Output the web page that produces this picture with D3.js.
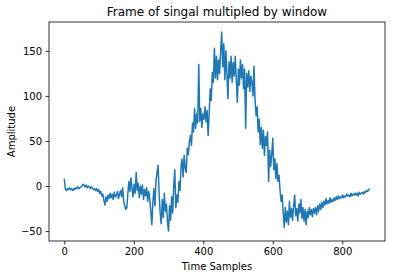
<!DOCTYPE html>
<html>
<head>
<meta charset="utf-8">
<script src="https://cdn.jsdelivr.net/npm/d3@7"></script>
<style>
  body { margin: 0; background: #fff; }
  svg text { font-family: "DejaVu Sans", sans-serif; fill: #000; }
</style>
</head>
<body>
<svg id="svg" width="394" height="278"></svg>
<script>
const step = 3;
const amplitude = [
  8, -3, -5, -3, -4, -2, -4, -3, -5, -3,
  -4, -2, -3, -1, -3, -2, -1, 0, 2, 1,
  -1, 1, -2, 0, -1, -3, -1, -2, -4, -3,
  -5, -3, -6, -4, -8, -6, -11, -9, -16, -21,
  -12, -17, -10, -14, -8, -13, -9, -15, -7, -12,
  -10, -6, -14, -9, -5, -12, -2, -17, -22, -26,
  -24, -8, 5, -6, 9, -3, -12, 2, -8, 15,
  -5, 3, -13, 0, -9, 1, -15, -4, -11, -2,
  -17, -6, -14, -28, -43, -18, -3, -22, 6, 15,
  23, -10, -30, -42, -15, -35, -8, -28, -20, -40,
  -50, -22, -38, -12, -30, 0, 18, -24, -10, -18,
  5, -5, 22, 30, 10, 34, 20, 15, 42, 35,
  49, 56, 45, 70, 60, 86, 64, 80, 70, 135,
  72, 86, 65, 80, 74, 88, 71, 84, 56, 80,
  108, 95, 126, 115, 153, 120, 144, 118, 140, 125,
  150, 171, 132, 158, 118, 150, 125, 97, 138, 120,
  144, 115, 137, 122, 144, 118, 93, 130, 112, 140,
  120, 135, 108, 130, 64, 125, 110, 128, 105, 122,
  115, 100, 133, 95, 78, 88, 60, 74, 46, 65,
  42, 62, 34, 55, 45, 60, 5, 40, 22, 35,
  53, 18, 30, 8, 25, 5, 12, -5, -17, -10,
  -30, -46, -24, -40, -28, -43, -17, -35, -25, -38,
  -22, -10, -33, -25, -39, -20, -30, -15, -36, -24,
  -39, -26, -43, -28, -35, -24, -32, -26, -34, -25,
  -30, -24, -32, -22, -28, -20, -26, -18, -24, -17,
  -21, -14, -20, -16, -19, -13, -18, -15, -17, -13,
  -16, -12, -15, -11, -14, -12, -13, -10, -13, -11,
  -12, -9, -11, -10, -12, -8, -11, -9, -10, -8,
  -10, -8, -11, -7, -9, -8, -7, -9, -6, -7,
  -5, -6, -4, -3
];
const xTicks = [0, 200, 400, 600, 800];
const yTicks = [-50, 0, 50, 100, 150];

const svg = d3.select('#svg');
const pl = 49, pr = 385, pt = 22, pb = 241;

const pts = amplitude.map((v, i) => [i * step, v]);
const xMax = (amplitude.length - 1) * step;
const xPad = xMax * 0.05;
const [yMin, yMax] = d3.extent(amplitude);
const yPad = (yMax - yMin) * 0.05;

const x = d3.scaleLinear().domain([-xPad, xMax + xPad]).range([pl, pr]);
const y = d3.scaleLinear().domain([yMin - yPad, yMax + yPad]).range([pb, pt]);

const line = d3.line().x(d => x(d[0])).y(d => y(d[1]));
svg.append('path').datum(pts)
  .attr('d', line)
  .attr('fill', 'none')
  .attr('stroke', '#1f77b4')
  .attr('stroke-width', 1.5)
  .attr('stroke-linejoin', 'round');

const xAxis = svg.append('g').attr('transform', `translate(0,${pb})`)
  .call(d3.axisBottom(x).tickValues(xTicks).tickSize(3.5).tickPadding(3.5).tickSizeOuter(0));
const yAxis = svg.append('g').attr('transform', `translate(${pl},0)`)
  .call(d3.axisLeft(y).tickValues(yTicks).tickSize(3.5).tickPadding(3.5).tickSizeOuter(0)
    .tickFormat(d => d < 0 ? '\u2212' + Math.abs(d) : d));
[xAxis, yAxis].forEach(g => {
  g.select('.domain').remove();
  g.selectAll('.tick line').attr('stroke', '#000').attr('stroke-width', 0.8);
  g.selectAll('.tick text').attr('font-size', 10).attr('font-family', 'DejaVu Sans');
});

// frame
svg.append('rect')
  .attr('x', pl).attr('y', pt)
  .attr('width', pr - pl).attr('height', pb - pt)
  .attr('fill', 'none').attr('stroke', '#000').attr('stroke-width', 0.8);

svg.append('text')
  .attr('x', (pl + pr) / 2).attr('y', 16)
  .attr('text-anchor', 'middle').attr('font-size', 12)
  .text('Frame of singal multipled by window');

svg.append('text')
  .attr('x', (pl + pr) / 2).attr('y', 270)
  .attr('text-anchor', 'middle').attr('font-size', 10)
  .text('Time Samples');

svg.append('text')
  .attr('transform', `translate(15,${(pt + pb) / 2}) rotate(-90)`)
  .attr('text-anchor', 'middle').attr('font-size', 10)
  .text('Amplitude');
</script>
</body>
</html>
